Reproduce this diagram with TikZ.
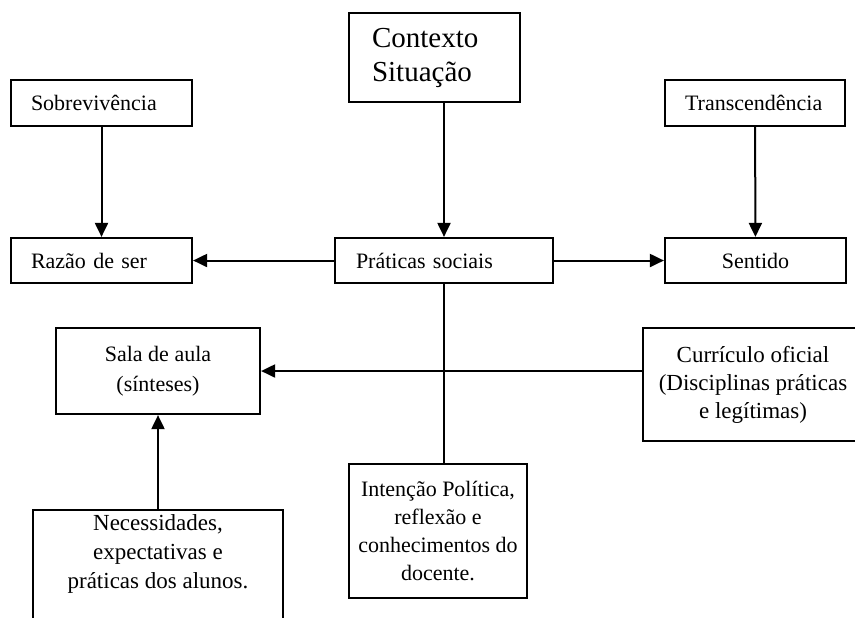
\documentclass[tikz,border=0pt]{standalone}
\usepackage{fontspec}
\setmainfont{Liberation Serif}
\usetikzlibrary{arrows.meta}

\begin{document}
\begin{tikzpicture}[x=0.5pt,y=-0.5pt,
  box/.style={draw,line width=1.1pt,inner sep=0pt,font=\fontsize{11}{14}\selectfont},
  link/.style={line width=1pt,-{Triangle[length=7pt,width=6.5pt]}}]
\useasboundingbox (0,0) rectangle (855,617);
\clip (0,0) rectangle (855,617);
% top row
\node[box,minimum width=85.5pt,minimum height=44.5pt,text width=62.5pt,align=left,
      font=\fontsize{14.5}{17}\selectfont] (ctx) at (434.5,57.5) {Contexto\\Situação};
\node[box,minimum width=90.5pt,minimum height=23pt,text width=70.5pt,align=left] (sob) at (101.5,103) {Sobrevivência};
\node[box,minimum width=90pt,minimum height=23pt,text width=70pt,align=left] (tra) at (755,103) {Transcendência};
% middle row
\node[box,minimum width=90.5pt,minimum height=22.5pt,text width=70.5pt,align=left] (raz) at (101.5,260.5) {Razão de ser};
\node[box,minimum width=109pt,minimum height=22.5pt,text width=88pt,align=left] (prat) at (444,260.5) {Práticas sociais};
\node[box,minimum width=90.5pt,minimum height=22.5pt] (sen) at (755.5,260.5) {Sentido};
% lower part
\node[box,minimum width=102pt,minimum height=43pt,align=center,
      font=\fontsize{11}{15}\selectfont] (sala) at (158,371) {Sala de aula\\(sínteses)};
\node[box,minimum width=110pt,minimum height=56.5pt,align=center,
      font=\fontsize{11.5}{14}\selectfont] (curr) at (753,384.5)
      {Currículo oficial\\(Disciplinas práticas\\e legítimas)};
\node[box,minimum width=89pt,minimum height=67pt,align=center] (int) at (438,531)
      {Intenção Política,\\reflexão e\\conhecimentos do\\docente.};
\node[box,minimum width=125pt,minimum height=95pt,anchor=north,
      label={[anchor=north,align=center,inner sep=2.5pt,font=\fontsize{11.5}{14.5}\selectfont]north:Necessidades,\\expectativas e\\práticas dos alunos.}]
      (nec) at (158,509) {};
% connectors
\draw[link] (sob) -- (raz);
\draw[link] (prat.north |- ctx.south) -- (prat.north);
\draw[link] (tra) -- (sen);
\draw[link] (prat) -- (raz);
\draw[link] (prat) -- (sen);
\draw[line width=1pt] (prat.south) -- (prat.south |- int.north);
\draw[link] (curr.west |- sala.east) -- (sala.east);
\draw[link] (nec) -- (sala);
\end{tikzpicture}
\end{document}
